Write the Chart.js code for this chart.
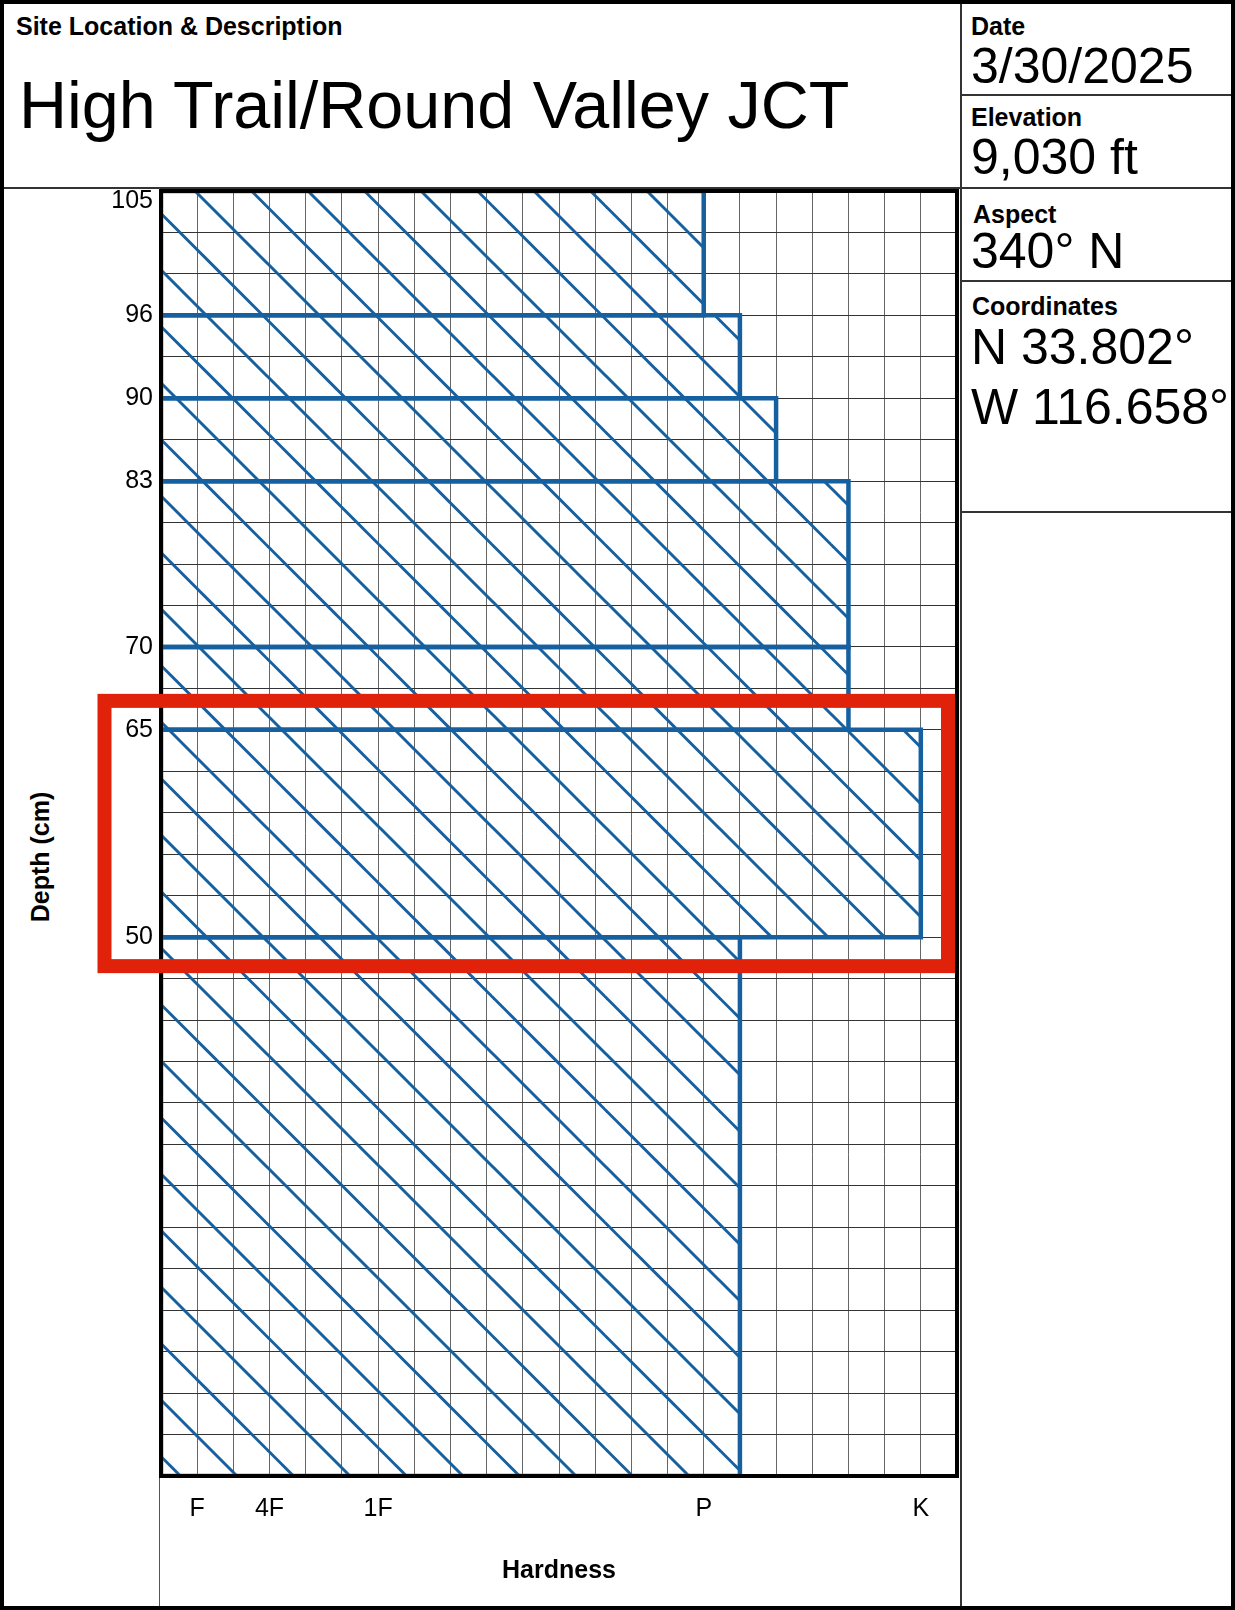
<!DOCTYPE html>
<html>
<head>
<meta charset="utf-8">
<title>High Trail/Round Valley JCT</title>
<script src="https://cdn.jsdelivr.net/npm/chart.js@4.4.1/dist/chart.umd.min.js"></script>
<style>
  body { margin: 0; background: #fff; font-family: "Liberation Sans", Arial, sans-serif; }
  #page { position: relative; width: 1235px; height: 1610px; overflow: hidden; }
  .ln { position: absolute; background: #333; }
  .t { position: absolute; white-space: nowrap; line-height: 1; color: #000; }
  .lbl { font-size: 25px; font-weight: bold; }
  .val { font-size: 50px; }
  #chartWrap { position: absolute; left: 0; top: 150px; width: 975px; height: 1460px; }
</style>
</head>
<body>
<div id="page">
  <!-- sheet frame -->
  <div class="ln" style="left:0;top:187px;width:1235px;height:2px;"></div>
  <div class="ln" style="left:960px;top:0;width:2px;height:1610px;"></div>
  <div class="ln" style="left:961px;top:94px;width:274px;height:2px;"></div>
  <div class="ln" style="left:961px;top:280px;width:274px;height:2px;"></div>
  <div class="ln" style="left:961px;top:511px;width:274px;height:2px;"></div>
  <div class="ln" style="left:159px;top:188px;width:1px;height:1422px;background:#555;"></div>
  <div style="position:absolute;left:0;top:0;width:1235px;height:1610px;border:4px solid #000;box-sizing:border-box;"></div>

  <!-- header -->
  <div class="t lbl" style="left:16px;top:14px;">Site Location &amp; Description</div>
  <div class="t" style="left:19px;top:72px;font-size:66.5px;">High Trail/Round Valley JCT</div>

  <div class="t lbl" style="left:971px;top:14px;">Date</div>
  <div class="t val" style="left:971px;top:41px;">3/30/2025</div>
  <div class="t lbl" style="left:971px;top:105px;">Elevation</div>
  <div class="t val" style="left:971px;top:132px;">9,030 ft</div>
  <div class="t lbl" style="left:973px;top:202px;">Aspect</div>
  <div class="t val" style="left:971px;top:226px;">340° N</div>
  <div class="t lbl" style="left:972px;top:294px;">Coordinates</div>
  <div class="t val" style="left:971px;top:322px;">N 33.802°</div>
  <div class="t val" style="left:971px;top:382px;">W 116.658°</div>

  <div class="t lbl" style="left:40px;top:857px;transform:translate(-50%,-50%) rotate(-90deg);">Depth (cm)</div>

  <div id="chartWrap"><canvas id="profile" width="975" height="1460"></canvas></div>
</div>

<script>
// snow layers, depth in cm from the ground, hardness on the 22 step grid
var layerTop = [105, 96, 90, 83, 70, 65, 50];
var layerBottom = [96, 90, 83, 70, 65, 50, 12];
var layerHardness = [15, 16, 17, 19, 19, 21, 16];

var depthTicks = [105, 96, 90, 83, 70, 65, 50];
var hardnessTicks = [1, 3, 6, 15, 21];
var hardnessNames = ["F", "4F", "1F", "P", "K"];

var highlightLayer = 5;

var DEPTH_MIN = 12, DEPTH_MAX = 105, GRID_STEP = 3, HARD_MAX = 22;
var BLUE = "#1660a0";
var RED = "#e0220a";
var FONT = "'Liberation Sans', Arial, sans-serif";

// depth axis that puts layer boundaries on the 3 cm grid (like the pit sheet does)
class SnapScale extends Chart.LinearScale {
    getPixelForValue(value) {
        if (value === null || isNaN(value)) return NaN;
        var steps = Math.floor((this.max - value) / GRID_STEP + 1e-6);
        return super.getPixelForValue(this.max - steps * GRID_STEP);
    }
}
SnapScale.id = "snap";
SnapScale.defaults = Chart.LinearScale.defaults;
Chart.register(SnapScale);

// diagonal hatch
function makeHatch(ctx) {
    var tile = document.createElement("canvas");
    tile.width = 113;
    tile.height = 113;
    var t = tile.getContext("2d");
    t.strokeStyle = BLUE;
    t.lineWidth = 3;
    [-113, -56.5, 0, 56.5, 113].forEach(function (c) {
        t.beginPath();
        t.moveTo(c - 20, -20);
        t.lineTo(c + 133, 133);
        t.stroke();
    });
    var p = ctx.createPattern(tile, "repeat");
    p.setTransform(new DOMMatrix([1, 0, 0, 1, 41, 0]));
    return p;
}

var sheetFrame = {
    id: "sheetFrame",
    afterDatasetsDraw: function (chart) {
        var a = chart.chartArea, ctx = chart.ctx;
        ctx.save();
        ctx.strokeStyle = "#000";
        ctx.lineWidth = 4;
        ctx.strokeRect(a.left, a.top, a.right - a.left, a.bottom - a.top);
        ctx.restore();
    },
    afterDraw: function (chart) {
        // red box round the layer of interest
        var a = chart.chartArea, y = chart.scales.y, ctx = chart.ctx;
        var top = y.getPixelForValue(layerTop[highlightLayer]) - 29;
        var bottom = y.getPixelForValue(layerBottom[highlightLayer]) + 29;
        var left = a.left - 56.5;
        var right = a.right - 9;
        ctx.save();
        ctx.strokeStyle = RED;
        ctx.lineWidth = 14;
        ctx.strokeRect(left, top, right - left, bottom - top);
        ctx.restore();
    }
};

window.onload = function () {
    var ctx = document.getElementById("profile").getContext("2d");
    var hatch = makeHatch(ctx);

    var datasets = layerTop.map(function (top, i) {
        var bot = layerBottom[i], h = layerHardness[i];
        return {
            data: [
                { x: 0, y: top },
                { x: h, y: top },
                { x: h, y: bot },
                { x: 0, y: bot },
                { x: 0, y: top }
            ],
            showLine: true,
            fill: "shape",
            backgroundColor: hatch,
            borderColor: BLUE,
            borderWidth: 4.5,
            borderJoinStyle: "miter",
            pointRadius: 0,
            tension: 0
        };
    });

    new Chart(ctx, {
        type: "scatter",
        data: { datasets: datasets },
        options: {
            responsive: false,
            animation: false,
            events: [],
            layout: { padding: { left: 0, right: 18, top: 41, bottom: 0 } },
            plugins: {
                legend: { display: false },
                tooltip: { enabled: false }
            },
            scales: {
                x: {
                    type: "linear",
                    position: "bottom",
                    min: 0,
                    max: HARD_MAX,
                    ticks: {
                        stepSize: 1,
                        autoSkip: false,
                        maxRotation: 0,
                        padding: 18,
                        color: "#000",
                        font: { family: FONT, size: 25 },
                        callback: function (v) {
                            var i = hardnessTicks.indexOf(v);
                            return i >= 0 ? hardnessNames[i] : "";
                        }
                    },
                    grid: { color: "#666", lineWidth: 1, drawTicks: false },
                    border: { display: false },
                    title: {
                        display: true,
                        text: "Hardness",
                        color: "#000",
                        font: { family: FONT, size: 25, weight: "bold" },
                        padding: { top: 0, bottom: 24 }
                    },
                    afterFit: function (s) { s.height = 134; }
                },
                y: {
                    type: "snap",
                    position: "left",
                    min: DEPTH_MIN,
                    max: DEPTH_MAX,
                    afterBuildTicks: function (s) {
                        s.ticks = depthTicks.map(function (v) { return { value: v }; });
                    },
                    ticks: {
                        padding: 8,
                        color: "#000",
                        font: { family: FONT, size: 25, lineHeight: 0.8 },
                        // top label sits just inside the frame
                        callback: function (v) { return v === DEPTH_MAX ? ["", String(v)] : String(v); }
                    },
                    grid: { display: false, drawTicks: false },
                    border: { display: false },
                    afterFit: function (s) { s.width = 161; }
                },
                yGrid: {
                    type: "linear",
                    position: "right",
                    min: DEPTH_MIN,
                    max: DEPTH_MAX,
                    ticks: { display: false, stepSize: GRID_STEP },
                    grid: { color: "#333", lineWidth: 1, drawTicks: false },
                    border: { display: false },
                    afterFit: function (s) { s.width = 0; }
                }
            }
        },
        plugins: [sheetFrame]
    });
};
</script>
</body>
</html>
